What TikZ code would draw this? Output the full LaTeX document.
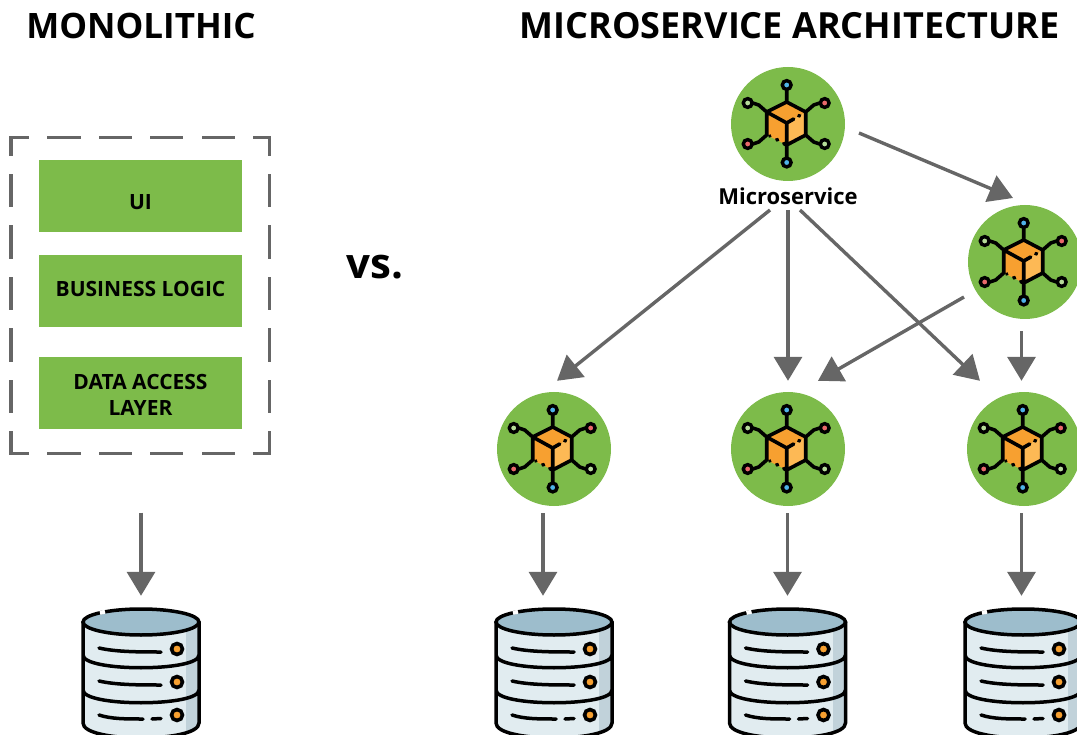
\documentclass[tikz,border=0pt]{standalone}
\usepackage{fontspec}
\setmainfont{Open Sans}
\usetikzlibrary{arrows.meta}

\definecolor{leaf}{HTML}{7DBB4A}
\definecolor{wire}{HTML}{666666}
\definecolor{cubedark}{HTML}{F7A030}
\definecolor{cubelight}{HTML}{FDB955}
\definecolor{pinblue}{HTML}{4FB3E8}
\definecolor{pinred}{HTML}{E8686A}
\definecolor{pinpale}{HTML}{B5DB98}
\definecolor{diskbody}{HTML}{E1ECF0}
\definecolor{diskshade}{HTML}{C1D2DA}
\definecolor{disktop}{HTML}{9DBDCC}

\tikzset{
    flow/.style={draw=wire,line width=3.4pt,-{Triangle[length=24pt,width=28pt]}},
    layerbox/.style={fill=leaf,minimum width=203pt,minimum height=72pt,inner sep=0pt,align=center,
        font=\fontsize{21}{26}\selectfont\bfseries},
    heading/.style={inner sep=0pt,font=\bfseries},
    svc/.style={circle,fill=leaf,minimum size=114pt,inner sep=0pt},
    diskslot/.style={minimum width=116pt,minimum height=26pt,inner sep=0pt},
    pin/.style={draw=black,line width=3.4pt},
    cubeicon/.pic={
        \fill[cubedark] (0,-1) -- (-20,-12) -- (0,-22) -- (19,-12) -- cycle;
        \fill[cubedark] (0,-1) -- (-20,-12) -- (-20,11) -- (0,21) -- cycle;
        \fill[cubelight] (0,-1) -- (19,-12) -- (19,11) -- (0,21) -- cycle;
        \draw[black,line width=3.6pt,line join=round,line cap=round]
            (-20,11) -- (-20,-12) -- (0,-22) -- (19,-12) -- (19,11) -- (0,21)
            (-20,-12) -- (0,-1) -- (0,21)
            (0,-1) -- (7,-5)
            (0,-22) -- (0,-34) (0,21) -- (0,33)
            (-20,-12) -- (-28,-19) -- (-34,-21)
            (19,-12) -- (27,-19) -- (33,-21)
            (-20,11) -- (-28,18) -- (-34,20)
            (19,11) -- (27,18) -- (33,20)
            (-17,12) -- (-16.8,12.1) (-10,15.5) -- (-9,16) (0,21) -- (-3,19.5)
            (12,-8) -- (13,-8.5);
        \draw[pin,fill=pinblue] (0,-39) circle (4.4);
        \draw[pin,fill=pinblue] (0,38.5) circle (4.4);
        \draw[pin,fill=pinpale] (-39,-21) circle (4.4);
        \draw[pin,fill=pinred] (38,-21) circle (4.4);
        \draw[pin,fill=pinred] (-39,20) circle (4.4);
        \draw[pin,fill=pinpale] (38,20) circle (4.4);
    },
    dbicon/.pic={
        \fill[diskbody] (-58,0) -- (-58,101) .. controls (-58,121) and (58,121) .. (58,101) -- (58,0) -- cycle;
        \begin{scope}
            \clip (-58,0) -- (-58,101) .. controls (-58,121) and (58,121) .. (58,101) -- (58,0) -- cycle;
            \fill[diskshade] (45,-5) rectangle (60,125);
        \end{scope}
        \draw[black,line width=3.5pt,fill=disktop] (0,0) ellipse [x radius=58,y radius=13];
        \draw[white,line width=4pt] (-41,-9.1) -- (-36,-10.3);
        \draw[black,line width=3.5pt,line cap=round]
            (-58,0) -- (-58,101) .. controls (-58,121) and (58,121) .. (58,101) -- (58,0)
            (-58,33) .. controls (-58,50) and (58,50) .. (58,33)
            (-58,68) .. controls (-58,85) and (58,85) .. (58,68)
            (-42,26) .. controls (-25,30) and (0,30) .. (20,30)
            (-42,59) .. controls (-25,63) and (0,63) .. (20,63)
            (-42,93) .. controls (-30,97) and (-15,97) .. (2,97)
            (11,97) -- (20,96.5);
        \foreach \dy in {27,60,93}
            \draw[black,line width=3.6pt,fill=cubedark] (36,\dy) circle (5.5);
    }
}

\begin{document}
\begin{tikzpicture}[x=1pt,y=-1pt]
    \clip (0,0) rectangle (1077,735);

    \node [heading,font=\fontsize{35}{40}\selectfont\bfseries] (titleMono) at (141,26) {MONOLITHIC};
    \node [heading,font=\fontsize{36}{40}\selectfont\bfseries] (titleMicro) at (789.5,26) {MICROSERVICE ARCHITECTURE};
    \node [heading,font=\fontsize{42}{44}\selectfont\bfseries] (versus) at (375,267) {vs.};

    % monolith box
    \node [minimum width=258.3pt,minimum height=315.5pt,inner sep=0pt] (frame) at (140.3,295.7) {};
    \foreach \from/\to in {north west/north east,north east/south east,south west/south east,north west/south west}
        \draw [wire,line width=3.1pt,line cap=rect,dash pattern=on 30.2pt off 21.2pt,dash phase=13.5pt] (frame.\from) -- (frame.\to);
    \node [layerbox] (boxUI) at (140.5,196) {\rule{0pt}{27pt}UI};
    \node [layerbox] (boxLogic) at (140.5,291) {\rule[-4pt]{0pt}{4pt}BUSINESS LOGIC};
    \node [layerbox] (boxData) at (140.5,393) {\rule{0pt}{20pt}DATA ACCESS\\LAYER};

    % services
    \foreach \nm/\cx/\cy in {svcTop/788/124,svcSide/1025/262,svcLeft/554/449,svcMid/788/449,svcRight/1024/449} {
        \node [svc] (\nm) at (\cx,\cy) {};
        \pic at ([xshift=-1.3pt]\nm.center) {cubeicon};
    }
    \node [heading,font=\fontsize{22}{24}\selectfont\bfseries] (lblMicro) at (788,196) {Microservice};

    % databases
    \foreach \nm/\cx in {dbMono/141,dbLeft/554,dbMid/787.5,dbRight/1023} {
        \node [diskslot] (\nm) at (\cx,622) {};
        \pic at (\nm) {dbicon};
    }

    \draw [flow] ([yshift=-59pt]frame.south -| dbMono.north) -- ([yshift=13pt]dbMono.north);
    \draw [flow] ([xshift=-11pt,yshift=-7pt]svcLeft.south) -- ([xshift=-11pt,yshift=13pt]dbLeft.north);
    \draw [flow] ([yshift=-7pt]svcMid.south -| dbMid.north) -- ([yshift=13pt]dbMid.north);
    \draw [flow] ([xshift=-2.5pt,yshift=-7pt]svcRight.south) -- ([xshift=-1.5pt,yshift=13pt]dbRight.north);

    \draw [flow] ([xshift=71pt,yshift=-9pt]svcTop.center) -- ([xshift=-12pt,yshift=64pt]svcSide.center);
    \draw [flow] ([xshift=-18pt,yshift=-14pt]lblMicro.center) -- ([xshift=3pt,yshift=11pt]svcLeft.north);
    \draw [flow] ([yshift=-14pt]lblMicro.center) -- ([yshift=11pt]svcMid.north);
    \draw [flow] ([xshift=12pt,yshift=-14pt]lblMicro.center) -- ([xshift=-44pt,yshift=11pt]svcRight.north);
    \draw [flow] ([xshift=-61pt,yshift=-35pt]svcSide.center) -- ([xshift=30pt,yshift=11pt]svcMid.north);
    \draw [flow] ([xshift=-3.5pt,yshift=-12pt]svcSide.south) -- ([xshift=-2.5pt,yshift=11pt]svcRight.north);
\end{tikzpicture}
\end{document}
